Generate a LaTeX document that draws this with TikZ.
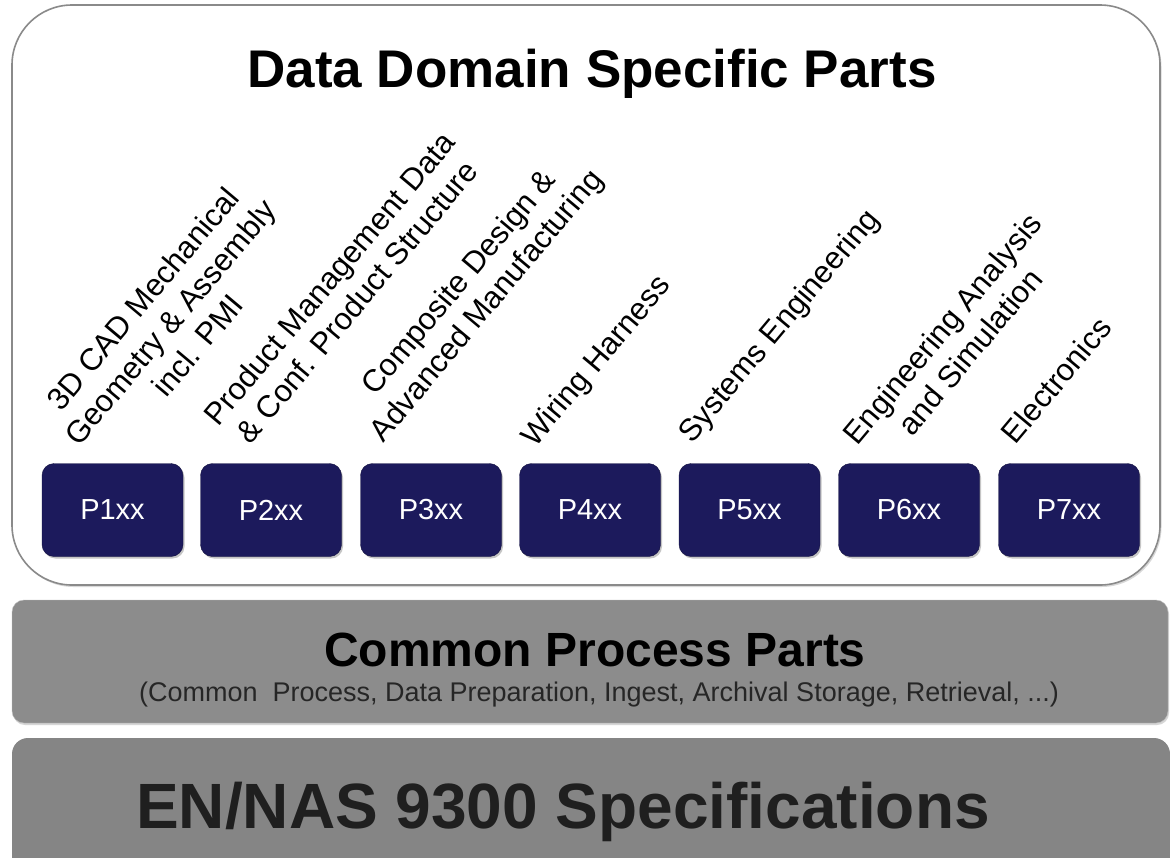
\documentclass[tikz,border=0pt]{standalone}
\usepackage{fontspec}
\setmainfont{Liberation Sans}
\usetikzlibrary{shadows}
\definecolor{navy}{HTML}{1C1A5C}
\definecolor{cpgray}{HTML}{8C8C8C}
\definecolor{engray}{HTML}{858585}
\definecolor{rimgray}{HTML}{8A8A8A}
\tikzset{
  pbox/.style={fill=navy, draw=navy!70!black, rounded corners=12pt, minimum width=141pt, minimum height=93pt,
    text=white, font=\fontsize{29}{32}\selectfont, inner sep=0pt,
    drop shadow={shadow xshift=1.5pt, shadow yshift=-2pt, fill=black!45, opacity=.5}},
  lbl/.style={rotate=50, align=center, font=\fontsize{31}{36}\selectfont, inner sep=0pt},
  band/.style={rounded corners=12pt, inner sep=0pt, draw=black!25},
}
\begin{document}
\begin{tikzpicture}[x=1pt,y=-1pt]
\useasboundingbox (0,0) rectangle (1170,857);
\fill[white] (0,0) rectangle (1170,857);
% outer white panel
\node[draw=rimgray, line width=1.6pt, fill=white, rounded corners=60pt, minimum width=1148pt, minimum height=580pt,
  drop shadow={shadow xshift=1.5pt, shadow yshift=-2pt, fill=black!30, opacity=.5}] (domain) at (586,295) {};
\node[font=\bfseries\fontsize{53}{58}\selectfont, anchor=base] (title) at (592,87) {Data Domain Specific Parts};
% part boxes
\node[pbox] (p1) at (112.5,510) {P1xx};
\node[pbox] (p2) at (271,510) {P2xx};
\node[pbox] (p3) at (431,510) {P3xx};
\node[pbox] (p4) at (590,510) {P4xx};
\node[pbox] (p5) at (749.5,510) {P5xx};
\node[pbox] (p6) at (909,510) {P6xx};
\node[pbox] (p7) at (1069,510) {P7xx};
% rotated labels
\node[lbl] (l1) at (170,322) {3D CAD Mechanical\\Geometry \& Assembly\\incl. PMI};
\node[lbl] (l2) at (343,290) {Product Management Data\\\& Conf. Product Structure};
\node[lbl] (l3) at (474,295) {Composite Design \&\\Advanced Manufacturing};
\node[lbl] (l4) at (597,362) {Wiring Harness};
\node[lbl] (l5) at (780,327) {Systems Engineering};
\node[lbl] (l6) at (956,340) {Engineering Analysis\\and Simulation};
\node[lbl] (l7) at (1056,380) {Electronics};
% common process band
\node[band, fill=cpgray, minimum width=1156pt, minimum height=123pt,
  drop shadow={shadow xshift=1pt, shadow yshift=-2pt, fill=black!40, opacity=.4}] (common) at (590,661.5) {};
\node[font=\bfseries\fontsize{48}{52}\selectfont, anchor=base] (ctitle) at (595,666) {Common Process Parts};
\node[font=\fontsize{27}{30}\selectfont, anchor=base, text=black!85] (csub) at (599,701)
  {(Common\ \ Process, Data Preparation, Ingest, Archival Storage, Retrieval, ...)};
% EN/NAS band
\node[band, fill=engray, draw=none, rounded corners=16pt, minimum width=1158pt, minimum height=150pt] (en) at (591,813) {};
\node[font=\bfseries\fontsize{64}{70}\selectfont, anchor=base, text=black!88] (entext) at (563,828) {EN/NAS 9300 Specifications};
\end{tikzpicture}
\end{document}
